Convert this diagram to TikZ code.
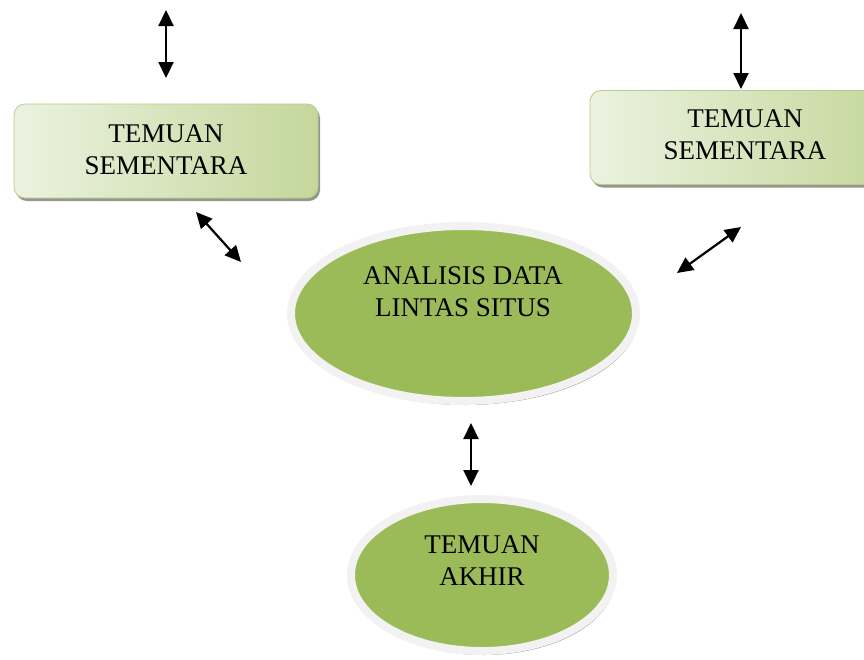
\documentclass[tikz,border=0pt]{standalone}
\usepackage{fontspec}
\setmainfont{Liberation Serif}
\usetikzlibrary{arrows.meta,shadows,shapes.geometric}
\definecolor{Ogreen}{RGB}{155,187,89}
\definecolor{Boxlight}{RGB}{236,242,224}
\definecolor{Boxdark}{RGB}{196,215,155}
\definecolor{Boxline}{RGB}{184,205,140}
\definecolor{Ring}{RGB}{242,242,242}
\definecolor{Shade}{RGB}{150,150,140}

\begin{document}
\begin{tikzpicture}[x=1pt,y=-1pt,line cap=round,line join=round,
  txt/.style={align=center,font=\fontsize{27}{32}\selectfont},
  sbox/.style={rectangle,rounded corners=11pt,draw=Boxline,line width=0.8pt,left color=Boxlight,right color=Boxdark,minimum width=304pt,minimum height=94pt,inner sep=0pt,drop shadow={shadow xshift=2pt,shadow yshift=-3pt,fill=Shade,opacity=1}},
  oval/.style={ellipse,draw=Ring,line width=8pt,fill=Ogreen,inner sep=0pt,drop shadow={shadow xshift=2pt,shadow yshift=-4pt,fill=Shade,opacity=1}},
  dbl/.style={{Triangle[length=16pt,width=15pt]}-{Triangle[length=16pt,width=15pt]},line width=2.2pt,line cap=butt}]
\path[use as bounding box] (0,0) rectangle (864,659);
\node[sbox] (kiri) at (166,151) {};
\node[txt] (kiriTxt) at (166,150) {TEMUAN\\SEMENTARA};
\node[sbox] (kanan) at (742,137.5) {};
\node[txt] (kananTxt) at (745,135) {TEMUAN\\SEMENTARA};
\node[oval,minimum width=345pt,minimum height=175pt] (ana) at (463.5,313.5) {};
\node[txt] (anaTxt) at (463,292) {ANALISIS DATA\\LINTAS SITUS};
\node[oval,minimum width=262pt,minimum height=152pt] (akhir) at (482,575) {};
\node[txt] (akhirTxt) at (482,561) {TEMUAN\\AKHIR};
\coordinate (kiriA) at (166,10);
\coordinate (kiriB) at (166,78);
\coordinate (kananA) at (741,13);
\coordinate (kananB) at (741,89);
\coordinate (kiriC) at (196,212);
\coordinate (anaL) at (241,262);
\coordinate (anaR) at (677,273);
\coordinate (kananC) at (741,227);
\coordinate (anaB) at (471,423);
\coordinate (akhirA) at (471,486);
\draw[dbl] (kiriA) -- (kiriB);
\draw[dbl] (kananA) -- (kananB);
\draw[dbl] (kiriC) -- (anaL);
\draw[dbl] (anaR) -- (kananC);
\draw[dbl] (anaB) -- (akhirA);
\end{tikzpicture}
\end{document}
